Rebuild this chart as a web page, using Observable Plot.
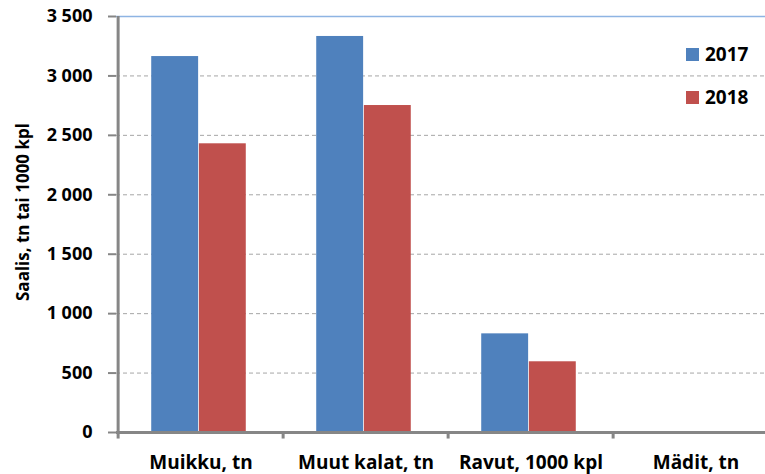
<!DOCTYPE html>
<html>
<head>
<meta charset="utf-8">
<script src="https://cdn.jsdelivr.net/npm/d3@7"></script>
<script src="https://cdn.jsdelivr.net/npm/@observablehq/plot@0.6"></script>
<style>
  body { margin: 0; background: #fff; }
  #wrap { position: relative; width: 765px; height: 474px; overflow: hidden; font-family: "Open Sans", sans-serif; }
  #legend { position: absolute; left: 686px; top: 44px; font-weight: bold; font-size: 19px; color: #000; }
  #legend .item { display: flex; align-items: center; height: 20px; margin-bottom: 23px; }
  #legend .sw { width: 13px; height: 13px; margin-right: 6px; }
  #ylabel { position: absolute; left: 22px; top: 212px; transform: translate(-50%, -50%) rotate(-90deg); white-space: nowrap; font-weight: bold; font-size: 17px; color: #000; }
</style>
</head>
<body>
<div id="wrap"></div>
<script>
const categories = ["Muikku, tn", "Muut kalat, tn", "Ravut, 1000 kpl", "Mädit, tn"];
const values2017 = [3163, 3332, 830, 0];
const values2018 = [2429, 2751, 595, 0];
const years = ["2017", "2018"];
const colors = ["#4F81BD", "#C0504D"];
const yTicks = [0, 500, 1000, 1500, 2000, 2500, 3000, 3500];
const yLabel = "Saalis, tn tai 1000 kpl";

const data2017 = categories.map((c, i) => ({category: c, value: values2017[i]}));
const data2018 = categories.map((c, i) => ({category: c, value: values2018[i]}));

const width = 765, height = 474;
const marginLeft = 116, marginRight = -14, marginTop = 16, marginBottom = 42;
const bw = (width - marginLeft - marginRight) / categories.length;
const groupFrac = 0.575;
const outer = bw * (1 - groupFrac) / 2;
const barW = bw * groupFrac / 2;

const fmt = d => d3.format(",")(d).replace(/,/g, "\u00a0");

const plot = Plot.plot({
  width, height, marginLeft, marginRight, marginTop, marginBottom,
  style: {fontFamily: "'Open Sans', sans-serif", fontWeight: "bold", fontSize: "18px", color: "#000", background: "#fff"},
  x: {type: "band", domain: categories, padding: 0, label: null},
  y: {domain: [0, 3500], label: null},
  marks: [
    Plot.gridY(yTicks.filter(d => d > 0 && d < 3500), {stroke: "#A6A6A6", strokeOpacity: 1, strokeDasharray: "4,3", strokeWidth: 1}),
    Plot.ruleY([3500], {stroke: "#8EB4E3", strokeWidth: 1.5}),
    Plot.barY(data2017, {x: "category", y: "value", fill: colors[0], insetLeft: outer - 2, insetRight: outer + barW + 2}),
    Plot.barY(data2018, {x: "category", y: "value", fill: colors[1], insetLeft: outer + barW - 2, insetRight: outer + 2}),
    Plot.ruleY([0], {stroke: "#868686", strokeWidth: 3}),
    Plot.ruleX(categories, {x: d => d, y1: 0, y2: -55, dx: -bw / 2, stroke: "#868686", strokeWidth: 3}),
    Plot.ruleX([categories[0]], {x: d => d, y1: 0, y2: 3500, dx: -bw / 2, stroke: "#868686", strokeWidth: 3}),
    Plot.axisY(yTicks, {tickSize: 8, tickPadding: 16, stroke: "#868686", strokeWidth: 2, tickFormat: fmt, fontSize: 18, fontWeight: "bold", label: null}),
    Plot.axisX({tickSize: 0, tickPadding: 23, fontSize: 19, fontWeight: "bold", label: null})
  ]
});

const wrap = document.getElementById("wrap");
wrap.appendChild(plot);
const yl = document.createElement("div");
yl.id = "ylabel";
yl.textContent = yLabel;
wrap.appendChild(yl);
const legend = document.createElement("div");
legend.id = "legend";
years.forEach((y, i) => {
  const it = document.createElement("div");
  it.className = "item";
  const sw = document.createElement("span");
  sw.className = "sw";
  sw.style.background = colors[i];
  it.appendChild(sw);
  it.appendChild(document.createTextNode(y));
  legend.appendChild(it);
});
wrap.appendChild(legend);
</script>
</body>
</html>
